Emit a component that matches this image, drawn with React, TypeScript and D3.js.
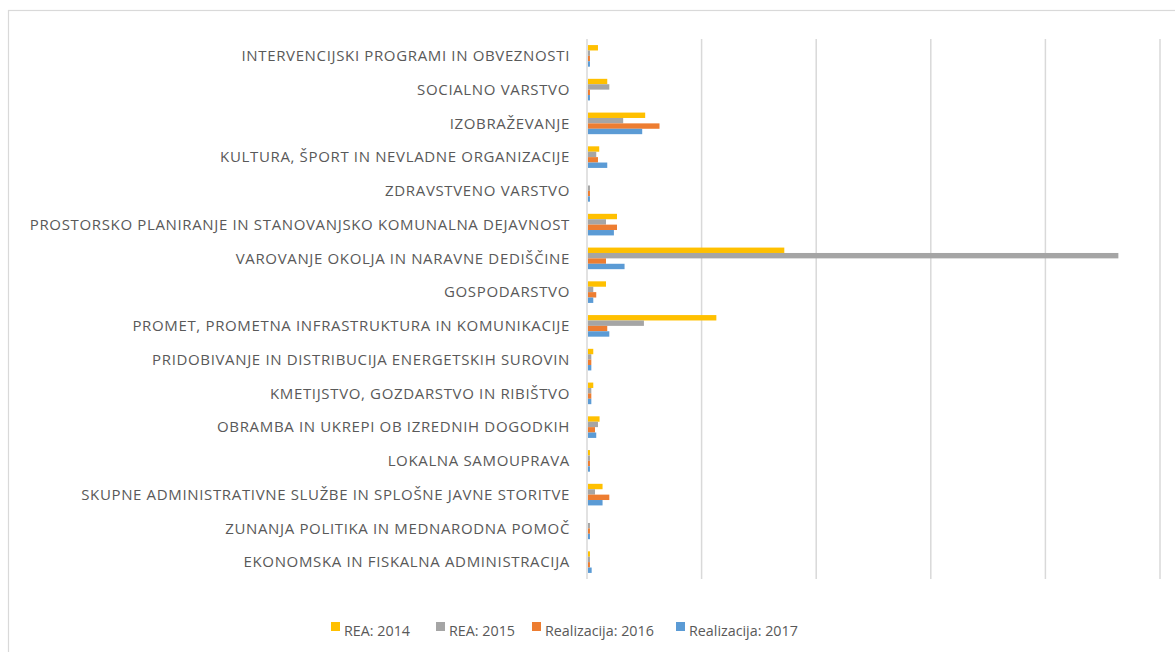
import React from "react";
import * as d3 from "d3";

const categories = [
  "INTERVENCIJSKI PROGRAMI IN OBVEZNOSTI",
  "SOCIALNO VARSTVO",
  "IZOBRAŽEVANJE",
  "KULTURA, ŠPORT IN NEVLADNE ORGANIZACIJE",
  "ZDRAVSTVENO VARSTVO",
  "PROSTORSKO PLANIRANJE IN STANOVANJSKO KOMUNALNA DEJAVNOST",
  "VAROVANJE OKOLJA IN NARAVNE DEDIŠČINE",
  "GOSPODARSTVO",
  "PROMET, PROMETNA INFRASTRUKTURA IN KOMUNIKACIJE",
  "PRIDOBIVANJE IN DISTRIBUCIJA ENERGETSKIH SUROVIN",
  "KMETIJSTVO, GOZDARSTVO IN RIBIŠTVO",
  "OBRAMBA IN UKREPI OB IZREDNIH DOGODKIH",
  "LOKALNA SAMOUPRAVA",
  "SKUPNE ADMINISTRATIVNE SLUŽBE IN SPLOŠNE JAVNE STORITVE",
  "ZUNANJA POLITIKA IN MEDNARODNA POMOČ",
  "EKONOMSKA IN FISKALNA ADMINISTRACIJA",
];

const rea2014 = [87, 168, 499, 98, 0, 253, 1713, 157, 1120, 46, 46, 101, 17, 127, 0, 17];
const rea2015 = [17, 186, 307, 72, 17, 157, 4628, 46, 488, 29, 29, 87, 17, 61, 17, 17];
const real2016 = [17, 17, 624, 87, 17, 253, 157, 72, 168, 29, 29, 61, 17, 186, 17, 17];
const real2017 = [17, 17, 473, 168, 17, 226, 319, 46, 186, 29, 29, 72, 17, 127, 17, 32];

const seriesNames = ["REA: 2014", "REA: 2015", "Realizacija: 2016", "Realizacija: 2017"];
const seriesColors = ["#FFC000", "#A5A5A5", "#ED7D31", "#5B9BD5"];
const seriesData = [rea2014, rea2015, real2016, real2017];
const gridTicks = [0, 1000, 2000, 3000, 4000, 5000];

export default function App() {
  const W = 1175, H = 652;
  const x = d3.scaleLinear().domain([0, 5000]).range([587, 1160]);
  const y = d3.scaleBand<string>().domain(categories).range([39, 579]).paddingInner(0.36).paddingOuter(0.18);
  const ys = d3.scaleBand<number>().domain([0, 1, 2, 3]).range([0, y.bandwidth()]);
  const font = "'Open Sans', 'Liberation Sans', Arial, sans-serif";
  const legendX = [331, 436, 532, 676];
  return (
    <svg width={W} height={H} style={{ position: "absolute", left: 0, top: 0, background: "#fff" }} fontFamily={font}>
      <rect x={8.5} y={10.5} width={W + 10} height={H + 10} fill="#fff" stroke="#d9d9d9" strokeWidth={1.2} />
      {gridTicks.map((t) => (
        <line key={t} x1={x(t)} x2={x(t)} y1={39} y2={579} stroke="#d9d9d9" strokeWidth={1.5} />
      ))}
      {categories.map((c, i) => (
        <g key={c}>
          {seriesData.map((s, j) => (
            <rect key={j} x={x(0) + 1} y={(y(c) as number) + (ys(j) as number)} width={Math.max(0, x(s[i]) - x(0))}
              height={ys.bandwidth()} fill={seriesColors[j]} />
          ))}
          <text x={570} y={(y(c) as number) + y.bandwidth() / 2} dy="0.35em" textAnchor="end" fontSize={15}
            letterSpacing={0.65} fill="#595959">{c}</text>
        </g>
      ))}
      {seriesNames.map((n, j) => (
        <g key={n}>
          <rect x={legendX[j]} y={622} width={9} height={9} fill={seriesColors[j]} />
          <text x={legendX[j] + 13} y={630.5} dy="0.35em" fontSize={14.3} fill="#595959">{n}</text>
        </g>
      ))}
    </svg>
  );
}
